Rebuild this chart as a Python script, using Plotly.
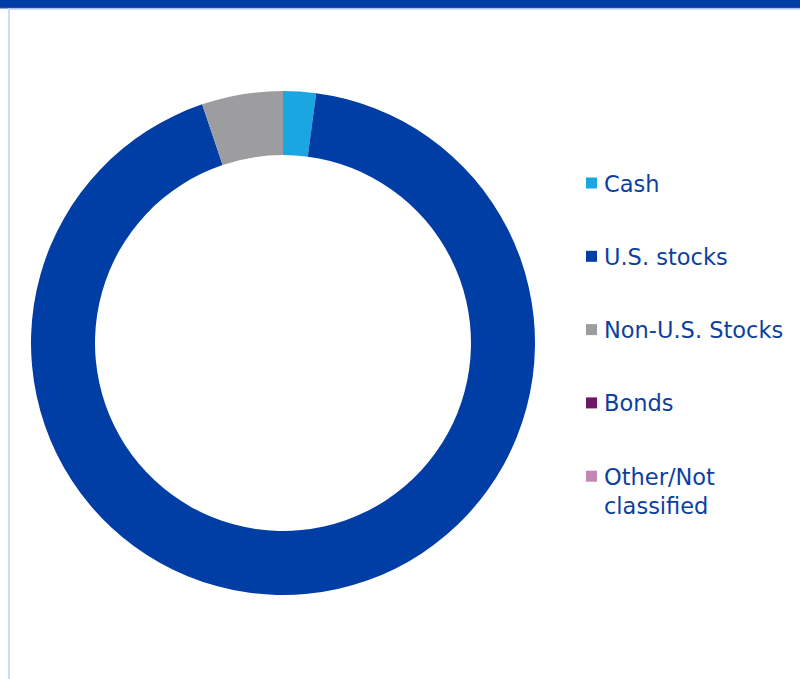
import plotly.graph_objects as go

# Asset allocation (percent of portfolio)
categories = ["Cash", "U.S. stocks", "Non-U.S. Stocks", "Bonds", "Other/Not classified"]
legend_text = ["Cash", "U.S. stocks", "Non-U.S. Stocks", "Bonds", "Other/Not<br>classified"]
weights = [2.1, 92.7, 5.2, 0.0, 0.0]
colors = ["#1aa6e2", "#003da5", "#9d9d9f", "#6c1866", "#c286b4"]

W, H = 800, 679
TEXT_BLUE = "#0d3f9f"

fig = go.Figure(
    go.Pie(
        labels=categories,
        values=weights,
        hole=0.746,
        sort=False,
        direction="clockwise",
        rotation=0,
        marker=dict(colors=colors, line=dict(width=0)),
        textinfo="none",
        hoverinfo="label+percent",
        showlegend=False,
        domain=dict(x=[31 / W, 535 / W], y=[(H - 595) / H, (H - 91) / H]),
    )
)

shapes = [
    # header band
    dict(type="rect", xref="paper", yref="paper", x0=0, x1=1,
         y0=1 - 7 / H, y1=1, fillcolor="#003da5", line=dict(width=0), layer="above"),
    dict(type="rect", xref="paper", yref="paper", x0=0, x1=1,
         y0=1 - 8.5 / H, y1=1 - 7 / H, fillcolor="#1e4aa8", line=dict(width=0)),
    dict(type="rect", xref="paper", yref="paper", x0=8 / W, x1=1,
         y0=1 - 10 / H, y1=1 - 8.5 / H, fillcolor="#cfe0fb", line=dict(width=0)),
    # left panel border
    dict(type="rect", xref="paper", yref="paper", x0=8 / W, x1=10 / W,
         y0=0, y1=1 - 8.5 / H, fillcolor="#cddcfb", line=dict(width=0)),
]

annotations = []
first_y = 183
step = 73.3
for i, (txt, col) in enumerate(zip(legend_text, colors)):
    yc = first_y + i * step
    shapes.append(dict(
        type="rect", xref="paper", yref="paper",
        x0=586 / W, x1=597 / W,
        y0=(H - yc - 5.5) / H, y1=(H - yc + 5.5) / H,
        fillcolor=col, line=dict(width=0),
    ))
    annotations.append(dict(
        xref="paper", yref="paper", x=602 / W, y=(H - yc + 14.5) / H,
        xanchor="left", yanchor="top", align="left", showarrow=False,
        text=txt, font=dict(family="DejaVu Sans", size=22.5, color=TEXT_BLUE),
    ))

fig.update_layout(
    width=W, height=H,
    margin=dict(l=0, r=0, t=0, b=0),
    paper_bgcolor="white",
    plot_bgcolor="white",
    shapes=shapes,
    annotations=annotations,
)

fig.write_html("out.html", config={"displayModeBar": False})
